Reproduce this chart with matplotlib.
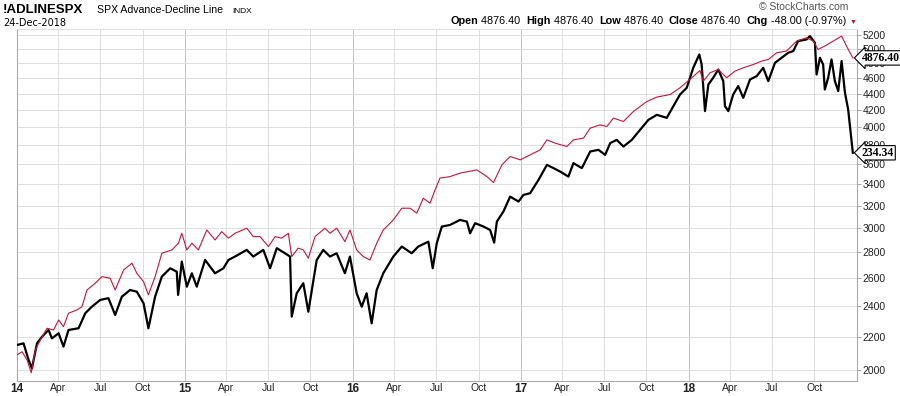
import numpy as np
import pandas as pd
import matplotlib
matplotlib.use("Agg")
import matplotlib.pyplot as plt
from matplotlib.ticker import FixedLocator, NullLocator

plt.rcParams['font.family'] = ['Liberation Sans', 'DejaVu Sans']

# advance-decline line (red), dates as decimal years
ad_t = [2014.00, 2014.03, 2014.06, 2014.085, 2014.109, 2014.139, 2014.179, 2014.218, 2014.248, 2014.277,
        2014.307, 2014.357, 2014.387, 2014.417, 2014.466, 2014.506, 2014.555, 2014.585, 2014.635, 2014.685,
        2014.714, 2014.754, 2014.783, 2014.823, 2014.863, 2014.923, 2014.962, 2014.982, 2015.012, 2015.042,
        2015.081, 2015.131, 2015.180, 2015.220, 2015.260, 2015.299, 2015.369, 2015.408, 2015.448, 2015.498,
        2015.538, 2015.577, 2015.617, 2015.637, 2015.676, 2015.706, 2015.736, 2015.776, 2015.835, 2015.865,
        2015.905, 2015.954, 2015.984, 2016.024, 2016.063, 2016.103, 2016.143, 2016.182, 2016.242, 2016.292,
        2016.341, 2016.381, 2016.420, 2016.460, 2016.490, 2016.519, 2016.579, 2016.638, 2016.738, 2016.798,
        2016.837, 2016.887, 2016.936, 2016.996, 2017.055, 2017.115, 2017.155, 2017.204, 2017.274, 2017.313,
        2017.373, 2017.413, 2017.472, 2017.512, 2017.551, 2017.611, 2017.670, 2017.750, 2017.810, 2017.889,
        2017.948, 2018.018, 2018.067, 2018.087, 2018.127, 2018.176, 2018.226, 2018.276, 2018.325, 2018.385,
        2018.435, 2018.474, 2018.524, 2018.583, 2018.643, 2018.702, 2018.742, 2018.771, 2018.811, 2018.861,
        2018.911, 2018.940, 2018.978]
ad_v = [2090, 2109, 2060, 1986, 2119, 2181, 2255, 2244, 2309, 2265,
        2354, 2376, 2398, 2515, 2564, 2613, 2601, 2515, 2663, 2715,
        2638, 2576, 2480, 2613, 2793, 2820, 2874, 2957, 2820, 2874,
        2820, 2985, 2901, 2971, 2916, 2957, 3000, 2929, 2929, 2847,
        2929, 2916, 2957, 2767, 2834, 2820, 2754, 2929, 3000, 2957,
        3000, 2887, 2985, 2820, 2767, 2740, 2874, 2985, 3072, 3176,
        3176, 3131, 3268, 3222, 3347, 3461, 3476, 3510, 3543, 3476,
        3417, 3594, 3681, 3646, 3698, 3752, 3860, 3824, 3787, 3860,
        3879, 3991, 4029, 4010, 4107, 4068, 4185, 4306, 4361, 4393,
        4478, 4608, 4705, 4564, 4674, 4718, 4608, 4697, 4741, 4786,
        4833, 4855, 4949, 4973, 5117, 5165, 5117, 4996, 5045, 5117,
        5190, 5045, 4876.40]

# SPY overlay (black), drawn in the chart's price scale
spy_t = [2014.00, 2014.039, 2014.069, 2014.089, 2014.119, 2014.149, 2014.188, 2014.208, 2014.248, 2014.277,
         2014.307, 2014.367, 2014.407, 2014.446, 2014.496, 2014.545, 2014.585, 2014.625, 2014.674, 2014.714,
         2014.754, 2014.783, 2014.823, 2014.863, 2014.913, 2014.952, 2014.960, 2014.982, 2015.012, 2015.042,
         2015.071, 2015.121, 2015.180, 2015.230, 2015.260, 2015.299, 2015.369, 2015.408, 2015.468, 2015.508,
         2015.548, 2015.597, 2015.627, 2015.637, 2015.667, 2015.706, 2015.736, 2015.786, 2015.825, 2015.865,
         2015.905, 2015.954, 2015.984, 2016.024, 2016.054, 2016.083, 2016.113, 2016.143, 2016.182, 2016.242,
         2016.292, 2016.351, 2016.390, 2016.450, 2016.476, 2016.500, 2016.530, 2016.579, 2016.638, 2016.679,
         2016.698, 2016.728, 2016.778, 2016.817, 2016.841, 2016.857, 2016.896, 2016.936, 2016.986, 2017.015,
         2017.055, 2017.105, 2017.155, 2017.194, 2017.234, 2017.283, 2017.313, 2017.363, 2017.413, 2017.462,
         2017.502, 2017.532, 2017.571, 2017.611, 2017.661, 2017.710, 2017.760, 2017.810, 2017.869, 2017.909,
         2017.948, 2017.988, 2018.027, 2018.063, 2018.077, 2018.097, 2018.117, 2018.146, 2018.176, 2018.206,
         2018.216, 2018.236, 2018.265, 2018.295, 2018.325, 2018.365, 2018.405, 2018.444, 2018.474, 2018.514,
         2018.554, 2018.593, 2018.623, 2018.652, 2018.702, 2018.722, 2018.752, 2018.762, 2018.782, 2018.801,
         2018.811, 2018.831, 2018.851, 2018.871, 2018.891, 2018.911, 2018.931, 2018.950, 2018.978]
spy_v = [2150, 2160, 2060, 2011, 2160, 2201, 2244, 2191, 2223, 2140,
         2244, 2255, 2354, 2398, 2445, 2457, 2342, 2468, 2515, 2503,
         2422, 2255, 2468, 2613, 2676, 2650, 2480, 2727, 2539, 2638,
         2539, 2740, 2638, 2676, 2740, 2767, 2820, 2767, 2820, 2676,
         2834, 2793, 2767, 2331, 2492, 2564, 2364, 2740, 2820, 2767,
         2793, 2638, 2767, 2492, 2398, 2492, 2287, 2515, 2638, 2767,
         2847, 2793, 2847, 2887, 2676, 2874, 3014, 3028, 3072, 3057,
         2957, 3043, 3014, 2985, 2879, 3057, 3146, 3283, 3237, 3299,
         3315, 3444, 3594, 3561, 3526, 3476, 3612, 3561, 3734, 3752,
         3698, 3824, 3860, 3787, 3860, 3972, 4087, 4146, 4110, 4250,
         4393, 4478, 4741, 4925, 4786, 4190, 4521, 4608, 4718, 4564,
         4250, 4190, 4393, 4500, 4352, 4585, 4630, 4741, 4564, 4809,
         4879, 4949, 4973, 5117, 5140, 5190, 5092, 4651, 4879, 4786,
         4456, 4608, 4855, 4564, 4436, 4833, 4415, 4210, 3720]

y_ticks = list(range(2000, 5201, 200))
ad_last = "4876.40"
spy_last = "234.34"

header = [("Open", True), (" 4876.40  ", False), ("High", True), (" 4876.40  ", False),
          ("Low", True), (" 4876.40  ", False), ("Close", True), (" 4876.40  ", False),
          ("Chg", True), (" -48.00 (-0.97%) ", False)]


def to_date(t):
    yr = int(t)
    start = pd.Timestamp(year=yr, month=1, day=1)
    days = (pd.Timestamp(year=yr + 1, month=1, day=1) - start).days
    return start + pd.Timedelta(days=(t - yr) * days)


ad_d = [to_date(t) for t in ad_t]
spy_d = [to_date(t) for t in spy_t]

fig = plt.figure(figsize=(9, 3.96), dpi=100)
ax = fig.add_axes([17 / 900, 1 - 381 / 396, 840 / 900, 352 / 396])

ax.plot(spy_d, spy_v, color='black', lw=1.6, zorder=3)
ax.plot(ad_d, ad_v, color='#C8143C', lw=0.8, zorder=4)

ax.set_yscale('log')
ax.set_ylim(1940, 5296)
ax.yaxis.set_major_locator(FixedLocator(y_ticks))
ax.yaxis.set_minor_locator(NullLocator())
ax.set_yticklabels([str(v) for v in y_ticks])
ax.yaxis.tick_right()
ax.tick_params(axis='y', which='both', direction='out', length=3, width=0.6,
               color='#999999', labelsize=7.5, pad=1, labelcolor='#222222')

# quarterly date ticks, years in bold
qtr = pd.date_range('2014-01-01', '2018-10-01', freq='QS')
labels = [("%02d" % (d.year % 100)) if d.month == 1 else d.strftime('%b') for d in qtr]
ax.set_xticks(qtr)
ax.set_xticklabels(labels)
ax.set_xlim(pd.Timestamp('2014-01-01'), pd.Timestamp('2019-01-02'))
ax.tick_params(axis='x', direction='out', length=0, color='#999999',
               labelsize=7.5, pad=1.5, labelcolor='#222222')
for lab, d in zip(ax.get_xticklabels(), qtr):
    if d.month == 1:
        lab.set_fontweight('bold')
        lab.set_fontsize(8.5)

ax.grid(True, axis='y', color='#dedede', lw=0.7)
for d in qtr:
    ax.axvline(d, color='#c4c4c4' if d.month == 1 else '#dedede', lw=0.7, zorder=0)
ax.set_axisbelow(True)
for s in ['left', 'bottom', 'right']:
    ax.spines[s].set_color('#aaaaaa')
    ax.spines[s].set_linewidth(0.8)
ax.spines['top'].set_color('#dedede')
ax.spines['top'].set_linewidth(0.7)

# last-value tags on the right
for v, txt in [(ad_v[-1], ad_last), (spy_v[-1], spy_last)]:
    ax.annotate(txt, xy=(1.0, v), xycoords=('axes fraction', 'data'),
                xytext=(3.5, 0), textcoords='offset points', ha='left', va='center',
                fontsize=8.5, fontweight='bold', family='Liberation Serif',
                annotation_clip=False, zorder=10,
                bbox=dict(boxstyle='larrow,pad=0.1', fc='white', ec='black', lw=0.8))

# title block
fig.text(3 / 900, 1 - 13 / 396, "!ADLINESPX", fontsize=9.5, fontweight='bold')
fig.text(97 / 900, 1 - 13 / 396, "SPX Advance-Decline Line", fontsize=7.6)
fig.text(232 / 900, 1 - 13 / 396, "INDX", fontsize=6)
fig.text(3 / 900, 1 - 26 / 396, "24-Dec-2018", fontsize=7, family='DejaVu Sans')
fig.text(848 / 900, 1 - 10 / 396, "\u00a9 StockCharts.com", fontsize=7.5, color='#555555', ha='right')

# quote line, built right to left
prev = fig.text(856 / 900, 1 - 24 / 396, "\u25bc", fontsize=5, color='#C8143C', ha='right')
for txt, bold in reversed(header):
    prev = ax.annotate(txt, xy=(0, 0), xycoords=prev, ha='right', va='bottom',
                       fontsize=7.8, fontweight='bold' if bold else 'normal',
                       annotation_clip=False)

fig.savefig('out.png', dpi=100)
